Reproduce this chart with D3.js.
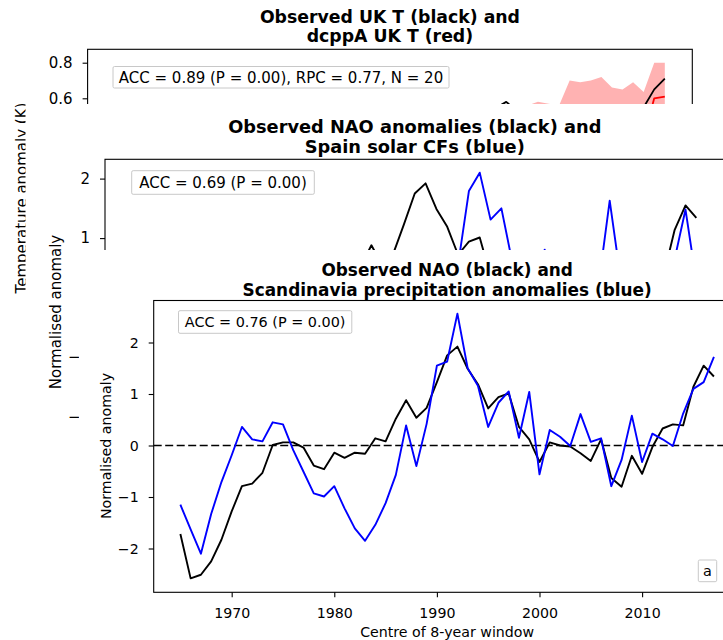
<!DOCTYPE html>
<html>
<head>
<meta charset="utf-8">
<script src="https://cdn.jsdelivr.net/npm/d3@7/dist/d3.min.js"></script>
<style>
html,body{margin:0;padding:0;background:#fff;}
svg text{font-family:"DejaVu Sans",sans-serif;fill:#000;}
</style>
</head>
<body>
<svg id="chart" width="723" height="640"></svg>
<script>
// ---------------- data ----------------
const years = [1965,1966,1967,1968,1969,1970,1971,1972,1973,1974,1975,1976,1977,1978,1979,1980,1981,1982,1983,1984,
  1985,1986,1987,1988,1989,1990,1991,1992,1993,1994,1995,1996,1997,1998,1999,2000,2001,2002,2003,2004,
  2005,2006,2007,2008,2009,2010,2011,2012,2013,2014,2015,2016,2017];

// Observed NAO (normalised), black
const naoObs = [-1.72,-2.58,-2.51,-2.25,-1.83,-1.28,-0.79,-0.74,-0.53,0.01,
  0.06,0.06,-0.04,-0.39,-0.46,-0.14,-0.24,-0.14,-0.16,0.14,
  0.08,0.52,0.88,0.54,0.73,1.23,1.75,1.92,1.49,1.19,
  0.72,0.94,1.01,0.36,0.12,-0.32,0.06,0.00,-0.02,-0.15,
  -0.30,0.12,-0.63,-0.80,-0.20,-0.55,-0.03,0.33,0.41,0.39,
  1.14,1.55,1.34];

// Scandinavia precipitation anomalies, blue
const scandPrecip = [-1.15,-1.63,-2.10,-1.33,-0.71,-0.19,0.36,0.12,0.08,0.45,
  0.41,-0.09,-0.51,-0.93,-0.99,-0.79,-1.22,-1.61,-1.85,-1.54,
  -1.12,-0.57,0.39,-0.40,0.42,1.55,1.63,2.56,1.50,1.16,
  0.36,0.83,1.05,0.15,1.04,-0.56,0.30,0.17,-0.01,0.61,
  0.07,0.14,-0.79,-0.28,0.58,-0.32,0.23,0.12,-0.01,0.62,
  1.10,1.23,1.72];

// Spain solar capacity factors (normalised), blue
const spainSolar = [-0.90,-1.20,-0.60,-0.30,-1.00,-0.40,0.20,-0.50,-0.80,-0.20,
  0.10,-0.60,-0.90,-1.30,-0.70,-0.20,0.30,-0.40,-0.10,0.50,
  0.20,-0.30,0.40,-0.20,0.10,0.60,0.30,-0.10,0.20,0.40,
  0.55,1.79,2.10,1.31,1.50,0.60,0.20,0.40,0.805,0.30,
  -0.10,0.50,0.20,0.25,1.63,0.33,-0.20,0.10,0.40,0.30,
  0.65,1.48,0.27];

// UK temperature: observed (black), dcppA mean (red), dcppA range (shading)
const ukTobs = [-0.35,-0.30,-0.28,-0.33,-0.36,-0.30,-0.25,-0.27,-0.22,-0.20,
  -0.15,-0.12,-0.16,-0.19,-0.14,-0.10,-0.08,-0.02,0.03,0.00,
  -0.05,0.02,0.08,0.15,0.22,0.28,0.25,0.30,0.33,0.38,
  0.42,0.40,0.47,0.50,0.49,0.52,0.545,0.58,0.53,0.51,
  0.49,0.47,0.44,0.41,0.43,0.42,0.46,0.45,0.48,0.50,
  0.55,0.65,0.71];
const ukTmodel = [-0.15,-0.12,-0.14,-0.16,-0.13,-0.10,-0.08,-0.09,-0.05,-0.03,
  0.00,0.02,0.00,0.03,0.07,0.09,0.10,0.13,0.11,0.15,
  0.17,0.16,0.20,0.22,0.25,0.27,0.26,0.29,0.30,0.32,
  0.31,0.33,0.34,0.33,0.35,0.34,0.35,0.34,0.35,0.36,
  0.38,0.37,0.36,0.46,0.45,0.46,0.48,0.43,0.42,0.45,
  0.38,0.60,0.61];
const ukThi = [0.05,0.08,0.06,0.04,0.07,0.10,0.12,0.11,0.15,0.17,
  0.20,0.22,0.20,0.23,0.27,0.29,0.30,0.33,0.31,0.35,
  0.37,0.36,0.40,0.42,0.45,0.47,0.46,0.49,0.50,0.52,
  0.51,0.53,0.54,0.53,0.55,0.54,0.55,0.54,0.55,0.56,
  0.58,0.57,0.56,0.70,0.69,0.70,0.72,0.66,0.65,0.69,
  0.636,0.80,0.80];
const ukTlo = [-0.35,-0.32,-0.34,-0.36,-0.33,-0.30,-0.28,-0.29,-0.25,-0.23,
  -0.20,-0.18,-0.20,-0.17,-0.13,-0.11,-0.10,-0.07,-0.09,-0.05,
  -0.03,-0.04,0.00,0.02,0.05,0.07,0.06,0.09,0.10,0.12,
  0.11,0.13,0.14,0.13,0.15,0.14,0.15,0.14,0.15,0.16,
  0.18,0.17,0.16,0.22,0.21,0.22,0.24,0.20,0.19,0.21,
  0.14,0.40,0.42];

const mainYTicks = [-2,-1,0,1,2];
const mainXTicks = [1970,1980,1990,2000,2010];
const midYTicks = [-2,-1,0,1,2];
const topYTicks = [0.6,0.8];

// ---------------- helpers ----------------
const svg = d3.select("#chart");
const FONT = "DejaVu Sans";
const fmtNum = d => (d < 0 ? "\u2212" + Math.abs(d) : String(d));

function frame(g, x0, x1, y0, y1) {
  g.append("rect").attr("x", x0).attr("y", y0).attr("width", x1 - x0).attr("height", y1 - y0)
    .attr("fill", "none").attr("stroke", "#000").attr("stroke-width", 1.1);
}
function yAxis(g, scale, ticks, x0, fs, fmt) {
  const a = g.append("g").attr("transform", `translate(${x0},0)`)
    .call(d3.axisLeft(scale).tickValues(ticks).tickSize(5).tickPadding(10).tickFormat(fmt));
  a.attr("font-family", null).attr("font-size", null);
  a.select(".domain").remove();
  a.selectAll("line").attr("stroke", "#000").attr("stroke-width", 1.1);
  a.selectAll("text").attr("font-size", fs).attr("font-family", FONT).attr("fill", "#000");
}
function xAxis(g, scale, ticks, y0, fs) {
  const a = g.append("g").attr("transform", `translate(0,${y0})`)
    .call(d3.axisBottom(scale).tickValues(ticks).tickSize(5).tickPadding(11).tickFormat(d3.format("d")));
  a.attr("font-family", null).attr("font-size", null);
  a.select(".domain").remove();
  a.selectAll("line").attr("stroke", "#000").attr("stroke-width", 1.1);
  a.selectAll("text").attr("font-size", fs).attr("font-family", FONT).attr("fill", "#000");
}
function title(g, cx, y1, y2, l1, l2, fs) {
  g.append("text").attr("x", cx).attr("y", y1).attr("text-anchor", "middle")
    .attr("font-size", fs).attr("font-weight", "bold").text(l1);
  g.append("text").attr("x", cx).attr("y", y2).attr("text-anchor", "middle")
    .attr("font-size", fs).attr("font-weight", "bold").text(l2);
}
function infoBox(g, x, y, w, h, txt, fs) {
  g.append("rect").attr("x", x).attr("y", y).attr("width", w).attr("height", h).attr("rx", 1.5)
    .attr("fill", "#fff").attr("stroke", "#c8c8c8").attr("stroke-width", 1);
  g.append("text").attr("x", x + w / 2).attr("y", y + h / 2 + fs * 0.36).attr("text-anchor", "middle")
    .attr("font-size", fs).text(txt);
}
function ylabel(g, x, y, txt, fs) {
  g.append("text").attr("transform", `translate(${x},${y}) rotate(-90)`).attr("text-anchor", "middle")
    .attr("font-size", fs).text(txt);
}
function series(g, xs, ys, vals, color, lw) {
  const line = d3.line().x((d, i) => xs(years[i])).y(d => ys(d));
  g.append("path").datum(vals).attr("d", line).attr("fill", "none")
    .attr("stroke", color).attr("stroke-width", lw).attr("stroke-linejoin", "round");
}

// ---------------- top figure: UK T ----------------
{
  const g = svg.append("g");
  const L = 87.6, R = 692.3, T = 49.3, B = 347;
  const x = d3.scaleLinear().domain([1962.4, 2019.6]).range([L, R]);
  const y = d3.scaleLinear().domain([0.6, 0.8]).range([98.3, 62.7]);
  title(g, (L + R) / 2, 22.5, 41.5, "Observed UK T (black) and", "dcppA UK T (red)", 17.3);
  const area = d3.area().x((d, i) => x(years[i])).y0((d, i) => y(ukTlo[i])).y1(d => y(d));
  g.append("path").datum(ukThi).attr("d", area).attr("fill", "#ffb2b2").attr("stroke", "none");
  series(g, x, y, ukTmodel, "#ff0000", 1.8);
  series(g, x, y, ukTobs, "#000", 1.8);
  frame(g, L, R, T, B);
  yAxis(g, y, topYTicks, L, 15, d3.format(".1f"));
  infoBox(g, 113, 66.5, 336, 21.5, "ACC = 0.89 (P = 0.00), RPC = 0.77, N = 20", 15);
  ylabel(g, 26.5, 198, "Temperature anomaly (K)", 15);
}

// ---------------- middle figure: NAO & Spain solar ----------------
svg.append("rect").attr("x", 25.5).attr("y", 104).attr("width", 700).attr("height", 540).attr("fill", "#fff");
{
  const g = svg.append("g");
  const L = 105, R = 724.5, T = 159.3, B = 464.7;
  const x = d3.scaleLinear().domain([1962.4, 2019.6]).range([L, R]);
  const y = d3.scaleLinear().domain([0, 2]).range([297.6, 178.6]);
  title(g, (L + R) / 2, 133, 152.5, "Observed NAO anomalies (black) and", "Spain solar CFs (blue)", 17.8);
  series(g, x, y, naoObs, "#000", 1.9);
  series(g, x, y, spainSolar, "#0000ff", 1.9);
  frame(g, L, R, T, B);
  yAxis(g, y, midYTicks, L, 15, fmtNum);
  infoBox(g, 131.7, 170.7, 182.6, 23.6, "ACC = 0.69 (P = 0.00)", 15);
  ylabel(g, 60.5, 312, "Normalised anomaly", 15);
}

// ---------------- bottom figure: NAO & Scandinavia precipitation ----------------
svg.append("rect").attr("x", 79).attr("y", 250).attr("width", 650).attr("height", 400).attr("fill", "#fff");
{
  const g = svg.append("g");
  const L = 153.7, R = 740.6, T = 300.5, B = 592.3;
  const x = d3.scaleLinear().domain([1962.4, 2019.6]).range([L, R]);
  const y = d3.scaleLinear().domain([0, 2]).range([445.5, 342.5]);
  title(g, (L + R) / 2, 276, 295.5, "Observed NAO (black) and", "Scandinavia precipitation anomalies (blue)", 16.9);
  g.append("line").attr("x1", L).attr("x2", R).attr("y1", y(0)).attr("y2", y(0))
    .attr("stroke", "#000").attr("stroke-width", 1.6).attr("stroke-dasharray", "8,3.5");
  series(g, x, y, naoObs, "#000", 1.9);
  series(g, x, y, scandPrecip, "#0000ff", 1.9);
  frame(g, L, R, T, B);
  yAxis(g, y, mainYTicks, L, 14.2, fmtNum);
  xAxis(g, x, mainXTicks, B, 14.2);
  infoBox(g, 178.5, 310.7, 173.3, 22.6, "ACC = 0.76 (P = 0.00)", 14.4);
  infoBox(g, 698.3, 560, 18.4, 21.7, "a", 14.4);
  ylabel(g, 110.5, 446, "Normalised anomaly", 14.2);
  g.append("text").attr("x", (L + R) / 2).attr("y", 636.5).attr("text-anchor", "middle")
    .attr("font-size", 14.2).text("Centre of 8-year window");
}
</script>
</body>
</html>
